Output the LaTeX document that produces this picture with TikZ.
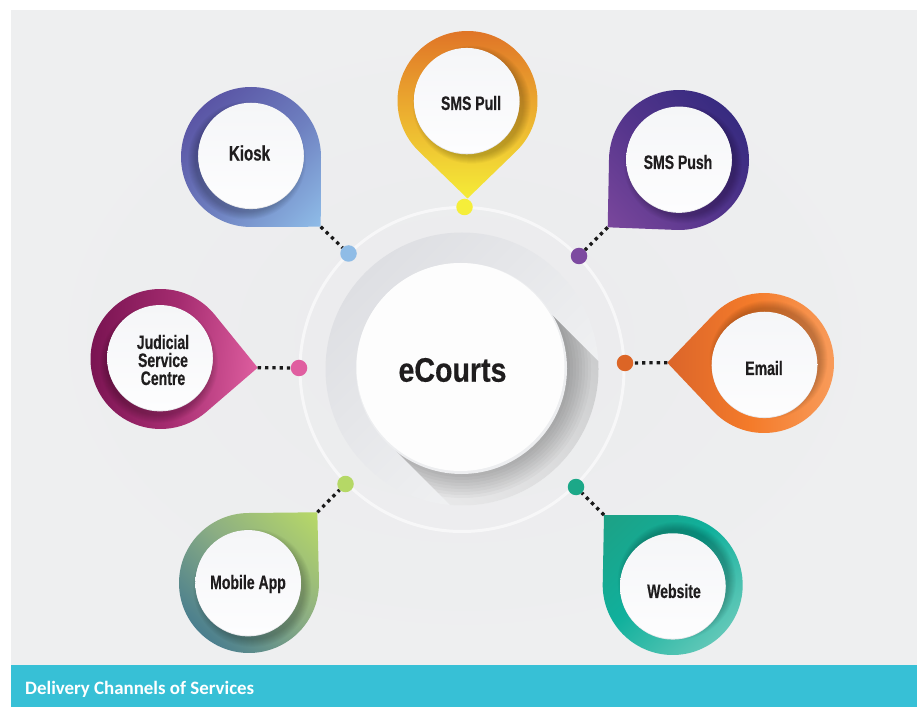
\documentclass[tikz,border=0pt]{standalone}
\usepackage{fontspec}
\setmainfont{Liberation Sans}
\newfontfamily\dinfont[FakeStretch=0.72,FakeBold=0.4]{Liberation Sans}
\newfontfamily\dinbig[FakeStretch=0.84,FakeBold=0.4]{Liberation Sans}
\newfontfamily\capfont{Carlito}
\usetikzlibrary{calc}
\newcommand{\hexc}[1]{\definecolor{#1}{HTML}{#1}}
\hexc{F5F6F8}\hexc{FDFDFE}\hexc{5A55A5}\hexc{8FBDE8}\hexc{DEDFE3}\hexc{F3F4F5}\hexc{C8C9CA}\hexc{ECECED}
\hexc{EDEEF0}\hexc{FDFDFD}\hexc{E07527}\hexc{F5EC37}\hexc{372B80}\hexc{7A479C}\hexc{DB652A}\hexc{F47B2A}\hexc{F89B5A}
\hexc{1DA185}\hexc{10B09C}\hexc{62C8B8}\hexc{B8D967}\hexc{4A7E8E}\hexc{7A1452}\hexc{DE5E9F}\hexc{E6E7EA}
\hexc{8FBCE6}\hexc{F5EE3A}\hexc{7D4AA0}\hexc{DC6526}\hexc{1CA888}\hexc{B5D866}\hexc{E05EA0}
\hexc{6E80C0}\hexc{ECB030}\hexc{55358C}\hexc{8CAE83}\hexc{A52C70}\hexc{F7F7F8}
\definecolor{bgin}{HTML}{EBEBED}
\definecolor{bgout}{HTML}{EEEFF0}
\definecolor{banner}{HTML}{37C0D6}
\definecolor{ink}{HTML}{1F1D1E}
\tikzset{
  x=1pt,y=1pt,
  dotline/.style={black!90,line width=3.3pt,dash pattern=on 3.3pt off 4pt},
  dotnode/.style={circle,draw=none,inner sep=0pt,minimum size=16.5pt},
  discnode/.style={circle,draw=none,inner sep=0pt,minimum size=105.5pt,top color=F5F6F8,bottom color=FDFDFE},
  pinlabel/.style={inner sep=0pt,font=\dinfont\bfseries\fontsize{19.5}{18}\selectfont,text=ink,align=center},
  bannertext/.style={anchor=base west,inner sep=0pt,text=white,font=\capfont\bfseries\fontsize{18.9}{20}\selectfont},
}
% pin: name, cx, cy (screen), tip x, tip y (screen), far colour, middle colour, tip colour
\newcommand{\pinshape}[8]{%
  \pgfmathsetmacro\pcy{707-#3}%
  \pgfmathsetmacro\pty{707-#5}%
  \pgfmathsetmacro\pang{atan2(\pty-\pcy,#4-#2)}%
  \pgfmathsetmacro\pd{veclen(\pty-\pcy,#4-#2)}%
  \pgfmathsetmacro\phalf{acos(70/\pd)}%
  \pgfmathsetmacro\prot{\pang+90}%
  \coordinate (#1-tip) at (#4,\pty);
  \begin{scope}
    \clip ($(#2,\pcy)+(\pang+\phalf:70)$) arc[start angle=\pang+\phalf,end angle=\pang+360-\phalf,radius=70] -- (#1-tip) -- cycle;
    \shade[transform canvas={rotate around={\prot:(#2,\pcy)}},top color=#6,bottom color=#8,middle color=#7]
      (#2-110,\pcy-\pd) rectangle (#2+110,\pcy+70);
  \end{scope}
}
% disc: name, x, y (screen), shadow dx, dy (screen)
\newcommand{\pindisc}[5]{%
  \pgfmathsetmacro\dy{707-#3}%
  \foreach \r in {52,53,...,59}{\fill[black,opacity=.028] (#2+#4,\dy-#5) circle[radius=\r];}
  \fill[E6E7EA] (#2,\dy-.8) circle[radius=52.8];
  \node[discnode] (#1) at (#2,\dy) {};
}
\begin{document}
\begin{tikzpicture}
\useasboundingbox (0,0) rectangle (917,707);
\fill[white] (0,0) rectangle (917,707);
\shade[inner color=bgin,outer color=bgout] (11,42) rectangle (917,696);
\fill[banner] (11,0) rectangle (917,42);
\node[bannertext] (caption) at (25,13) {Delivery Channels of Services};

% ring
\draw[F7F7F8,line width=3pt] (462,337.5) circle[radius=162];
% inner disc
\shade[top color=DEDFE3,bottom color=F3F4F5,shading angle=45] (462,338) circle[radius=136.5];
% long shadow
\begin{scope}
  \clip (462,338) circle[radius=136.5];
  \clip (552,392) -- (652,292) -- (493,159) -- (393,259) -- cycle;
  \shade[top color=C8C9CA,bottom color=ECECED,shading angle=-35] (380,150) rectangle (660,400);
  \foreach \r in {105,108,...,129}{\fill[black,opacity=.026] (462,338) circle[radius=\r];}
\end{scope}
% centre disc
\fill[EDEEF0] (461.5,338.5) circle[radius=105.5];
\node[circle,draw=none,inner sep=0pt,minimum size=208pt,fill=FDFDFD] (centre) at (460.5,340) {};
\node[inner sep=0pt,text=ink,font=\dinbig\bfseries\fontsize{34}{34}\selectfont] (centre-label) at (452.5,337) {eCourts};

% pins
\pinshape{kiosk}{251}{157}{320.7}{226.7}{5A55A5}{6E80C0}{8FBDE8}
\pinshape{pull}{467.5}{101}{467.5}{198.5}{E07527}{ECB030}{F5EC37}
\pinshape{push}{679}{160}{607.7}{227.3}{372B80}{55358C}{7A479C}
\pinshape{email}{764}{363}{667.3}{362.7}{F89B5A}{F47B2A}{DB652A}
\pinshape{web}{672.7}{585}{604}{515}{62C8B8}{10B09C}{1DA185}
\pinshape{mobile}{249}{583}{317.3}{512.3}{4A7E8E}{8CAE83}{B8D967}
\pinshape{jud}{160.5}{359}{257.7}{367.7}{7A1452}{A52C70}{DE5E9F}

\pindisc{kioskd}{251}{155.5}{-4}{5}
\pindisc{pulld}{466.7}{100.7}{5}{4}
\pindisc{pushd}{679}{159.3}{4}{5}
\pindisc{emaild}{764.5}{364.5}{4}{-5}
\pindisc{webd}{672.8}{586}{4}{-5}
\pindisc{mobiled}{248.2}{582.8}{4}{5}
\pindisc{judd}{160}{357.8}{-1}{6}

% labels
\node[pinlabel,font=\dinfont\bfseries\fontsize{21}{21}\selectfont] (kiosk-label) at (249.5,554) {Kiosk};
\node[pinlabel] (pull-label) at (471,604) {SMS Pull};
\node[pinlabel] (push-label) at (678,545) {SMS Push};
\node[pinlabel] (email-label) at (764,339) {Email};
\node[pinlabel] (web-label) at (674,116) {Website};
\node[pinlabel] (mobile-label) at (248,123) {Mobile App};
\node[pinlabel] (jud-label) at (163,347) {Judicial\\Service\\Centre};

% dots
\node[dotnode,fill=8FBCE6] (kiosk-dot) at (348.5,453.5) {};
\node[dotnode,fill=F5EE3A] (pull-dot) at (464.5,500) {};
\node[dotnode,fill=7D4AA0] (push-dot) at (579,451) {};
\node[dotnode,fill=DC6526] (email-dot) at (625,344) {};
\node[dotnode,fill=1CA888] (web-dot) at (576,220) {};
\node[dotnode,fill=B5D866] (mobile-dot) at (345.5,223) {};
\node[dotnode,fill=E05EA0] (jud-dot) at (299,339) {};

% connectors
\draw[dotline] (kiosk-tip) -- (kiosk-dot);
\draw[dotline] (push-tip) -- (push-dot);
\draw[dotline] (email-tip) -- (email-dot);
\draw[dotline] (web-tip) -- (web-dot);
\draw[dotline] (mobile-tip) -- (mobile-dot);
\draw[dotline] (jud-tip) -- (jud-dot);
\end{tikzpicture}
\end{document}
